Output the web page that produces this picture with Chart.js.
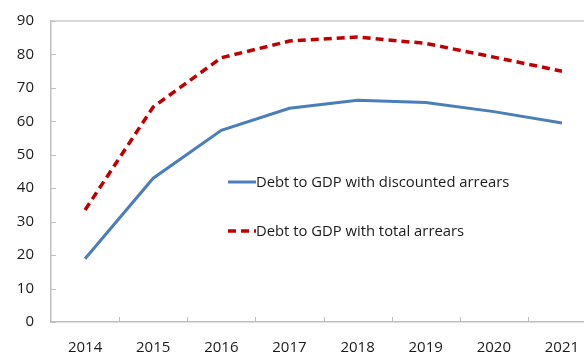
<!DOCTYPE html>
<html>
<head>
<meta charset="utf-8">
<script src="https://cdn.jsdelivr.net/npm/chart.js@4"></script>
<style>
  html, body { margin: 0; padding: 0; background: #fff; overflow: hidden; }
  #wrap { width: 584px; height: 353px; overflow: hidden; }
</style>
</head>
<body>
<div id="wrap"><canvas id="c" width="600" height="353"></canvas></div>
<script>
// values
const years = ['2014', '2015', '2016', '2017', '2018', '2019', '2020', '2021'];
const discountedArrears = [18.9, 43.0, 57.3, 63.9, 66.3, 65.6, 62.9, 59.5];
const totalArrears = [33.5, 64.3, 79.0, 84.0, 85.2, 83.3, 79.2, 75.0];
const yTicks = [0, 10, 20, 30, 40, 50, 60, 70, 80, 90];

const FONT = 'Open Sans';

// small tick marks pointing into the plot, like the original
const innerTicks = {
  id: 'innerTicks',
  afterDatasetsDraw(chart) {
    const { ctx, chartArea, scales } = chart;
    const x = scales.x, y = scales.y;
    ctx.save();
    ctx.strokeStyle = '#bfbfbf';
    ctx.lineWidth = 1;
    ctx.beginPath();
    yTicks.forEach(v => {
      const py = Math.round(y.getPixelForValue(v)) + 0.5;
      ctx.moveTo(chartArea.left, py);
      ctx.lineTo(chartArea.left + 5, py);
    });
    const step = x.getPixelForValue(1) - x.getPixelForValue(0);
    for (let i = 1; i < years.length; i++) {
      const px = Math.round(x.getPixelForValue(i) - step / 2) + 0.5;
      ctx.moveTo(px, chartArea.bottom);
      ctx.lineTo(px, chartArea.bottom - 5);
    }
    ctx.stroke();
    ctx.restore();
  }
};

// legend drawn inside the plot
const insideLegend = {
  id: 'insideLegend',
  afterDraw(chart) {
    const { ctx } = chart;
    const rows = [182, 231];
    ctx.save();
    ctx.font = '14.8px "' + FONT + '"';
    ctx.textBaseline = 'middle';
    ctx.fillStyle = '#1a1a1a';
    chart.data.datasets.forEach((ds, i) => {
      const yy = rows[i];
      ctx.beginPath();
      ctx.strokeStyle = ds.borderColor;
      ctx.lineWidth = ds.borderWidth;
      ctx.setLineDash(ds.borderDash || []);
      ctx.moveTo(228, yy);
      ctx.lineTo(256, yy);
      ctx.stroke();
      ctx.setLineDash([]);
      ctx.fillText(ds.label, 256, yy + 1);
    });
    ctx.restore();
  }
};

new Chart(document.getElementById('c'), {
  type: 'line',
  data: {
    labels: years,
    datasets: [
      {
        label: 'Debt to GDP with discounted arrears',
        data: discountedArrears,
        borderColor: '#4a7ebb',
        borderWidth: 3,
        pointRadius: 0,
        tension: 0,
        fill: false
      },
      {
        label: 'Debt to GDP with total arrears',
        data: totalArrears,
        borderColor: '#c00000',
        borderWidth: 3.5,
        borderDash: [8, 5],
        pointRadius: 0,
        tension: 0,
        fill: false
      }
    ]
  },
  options: {
    responsive: false,
    animation: false,
    devicePixelRatio: 1,
    layout: { padding: { top: 21, right: 4, left: 0, bottom: 0 } },
    plugins: {
      legend: { display: false },
      tooltip: { enabled: false },
      title: { display: false }
    },
    scales: {
      x: {
        offset: true,
        grid: { display: false, drawTicks: false },
        border: { color: '#bfbfbf', width: 1.5 },
        ticks: {
          color: '#1a1a1a',
          font: { family: FONT, size: 15 },
          padding: 17,
          maxRotation: 0
        },
        afterFit(scale) { scale.height = 31; }
      },
      y: {
        min: 0,
        max: 90,
        afterBuildTicks(scale) { scale.ticks = yTicks.map(v => ({ value: v })); },
        grid: {
          drawTicks: false,
          lineWidth: 2,
          color: ctx => (ctx.tick && ctx.tick.value === 90 ? '#d9d9d9' : 'rgba(0,0,0,0)')
        },
        border: { color: '#bfbfbf', width: 1.5 },
        ticks: {
          color: '#1a1a1a',
          font: { family: FONT, size: 15 },
          padding: 17
        },
        afterFit(scale) {
          scale.width = 51;
          scale.paddingTop = 0;
          scale.paddingBottom = 0;
        }
      }
    }
  },
  plugins: [innerTicks, insideLegend]
});
</script>
</body>
</html>
